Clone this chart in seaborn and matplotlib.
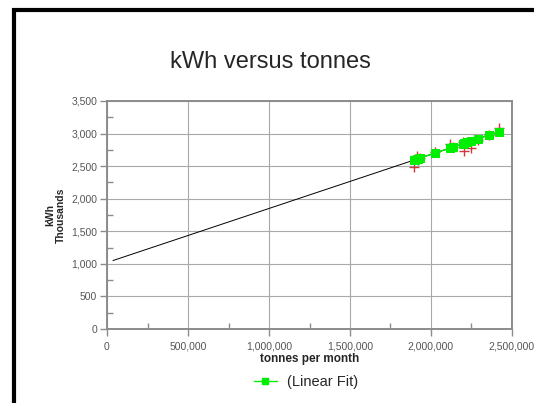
"""kWh versus tonnes: monthly consumption with its linear fit."""

import matplotlib

matplotlib.use("Agg")
import matplotlib.pyplot as plt
import seaborn as sns
from matplotlib.lines import Line2D
from matplotlib.ticker import AutoMinorLocator, FuncFormatter, MultipleLocator

sns.set_style("white")
plt.rcParams["font.family"] = ["Liberation Sans", "DejaVu Sans"]

# monthly observations (kWh shown in thousands)
tonnes = [1895000, 1903000, 1912000, 1920000, 1932000, 2025000, 2117000, 2136000,
          2198000, 2205000, 2222000, 2247000, 2290000, 2358000, 2420000]
kwh_actual = [2487, 2610, 2656, 2600, 2630, 2717, 2840, 2790,
              2870, 2732, 2875, 2778, 2905, 2985, 3086]
# fitted values
kwh_fit = [2593, 2599, 2607, 2614, 2624, 2701, 2777, 2793,
           2844, 2850, 2864, 2885, 2921, 2977, 3029]
# black trend line, extended back towards zero
trend_tonnes = [37000, 2420000]
trend_kwh = [1051, 3029]

GREY = "#8c8c8c"
GREEN = "#00ee00"

fig = plt.figure(figsize=(5.34, 4.03), dpi=100)
ax = fig.add_axes([107 / 534, 1 - 329 / 403, 405 / 534, 228 / 403])

ax.plot(trend_tonnes, trend_kwh, color="black", lw=0.7, zorder=2)
sns.scatterplot(x=tonnes, y=kwh_actual, ax=ax, marker="+", color="#c83c3c",
                s=60, linewidth=1.0, zorder=3)
sns.lineplot(x=tonnes, y=kwh_fit, ax=ax, color=GREEN, lw=1.0, marker="s",
             markersize=5.5, markeredgecolor=GREEN, label="(Linear Fit)", zorder=4)

ax.set_xlim(0, 2500000)
ax.set_ylim(0, 3500)
ax.xaxis.set_major_locator(MultipleLocator(500000))
ax.yaxis.set_major_locator(MultipleLocator(500))
ax.xaxis.set_minor_locator(AutoMinorLocator(2))
ax.yaxis.set_minor_locator(AutoMinorLocator(2))
fmt = FuncFormatter(lambda v, _: f"{v:,.0f}")
ax.xaxis.set_major_formatter(fmt)
ax.yaxis.set_major_formatter(fmt)

ax.grid(True, which="major", color="#a8a8a8", lw=0.8)
ax.set_axisbelow(True)
for sp in ax.spines.values():
    sp.set_visible(True)
    sp.set_color(GREY)
    sp.set_linewidth(1.4)

ax.tick_params(axis="both", which="major", labelsize=7.5, labelcolor="#555555",
               color=GREY, width=1, length=5, direction="out", pad=2)
ax.tick_params(axis="x", which="major", pad=4)
ax.tick_params(axis="both", which="minor", color=GREY, width=1, length=4,
               direction="in")
ax.tick_params(left=True, bottom=True, which="both")

ax.set_xlabel("tonnes per month", fontsize=8.5, fontweight="bold", labelpad=1)
ax.set_ylabel("kWh\nThousands", fontsize=7.5, fontweight="bold", labelpad=4,
              linespacing=1.0)

ax.legend_.remove()
handles = [Line2D([], [], color=GREEN, lw=1.0, marker="s", markersize=5,
                  markeredgecolor=GREEN)]
fig.legend(handles, ["(Linear Fit)"], loc="center",
           bbox_to_anchor=(306 / 534, 1 - 382 / 403), frameon=False,
           fontsize=10.5, handlelength=1.6, handletextpad=0.7)

fig.text(270 / 534, 1 - 62 / 403, "kWh versus tonnes", fontsize=17,
         ha="center", va="center")

# heavy black frame on the top and left edges
fig.add_artist(Line2D([12 / 534, 1.0], [1 - 10 / 403, 1 - 10 / 403],
                      transform=fig.transFigure, color="black", lw=3,
                      solid_capstyle="butt"))
fig.add_artist(Line2D([14 / 534, 14 / 534], [0.0, 1 - 8 / 403],
                      transform=fig.transFigure, color="black", lw=3,
                      solid_capstyle="butt"))

fig.savefig("out.png", dpi=100)
